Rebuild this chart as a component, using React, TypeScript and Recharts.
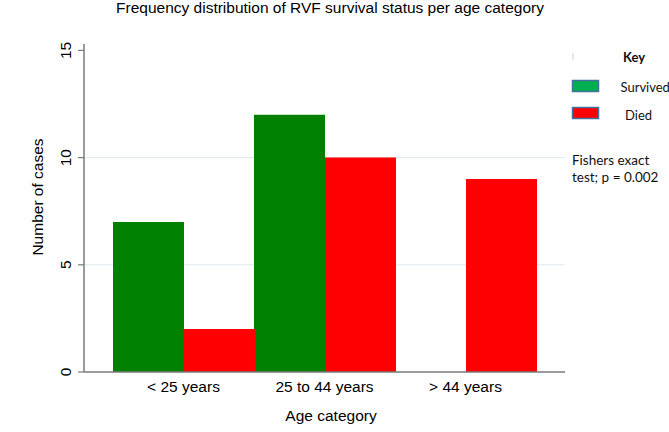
import React from 'react';
import { BarChart, Bar, XAxis, YAxis, CartesianGrid } from 'recharts';

const categories = ['< 25 years', '25 to 44 years', '> 44 years'];
const survivedValues = [7, 12, 0];
const diedValues = [2, 10, 9];
const yTicks = [0, 5, 10, 15];
const gridValues = [5, 10];
const legendLabels = ['Survived', 'Died'];
const legendColors = ['#00b050', '#ff0000'];
const barColors = ['#008000', '#ff0000'];

const data = categories.map((c, i) => ({
  category: c,
  survived: survivedValues[i],
  died: diedValues[i],
}));

const FONT = '"Liberation Sans", Arial, Helvetica, sans-serif';
const LFONT = 'Lato, "Noto Sans", sans-serif';

const YTick = (props: any) => {
  const { y, payload } = props;
  return (
    <text
      x={0}
      y={0}
      transform={`translate(70.5, ${y}) rotate(-90)`}
      textAnchor="middle"
      fontFamily={FONT}
      fontSize={15.5}
      fill="#000"
    >
      {payload.value}
    </text>
  );
};

const XTick = (props: any) => {
  const { x, payload } = props;
  return (
    <text x={x} y={392} textAnchor="middle" fontFamily={FONT} fontSize={15.5} fill="#000">
      {payload.value}
    </text>
  );
};

const xLabel = () => (
  <text x={331} y={421} textAnchor="middle" fontFamily={FONT} fontSize={15.5} fill="#000">
    Age category
  </text>
);

const yLabel = () => (
  <text
    x={0}
    y={0}
    transform="translate(43, 197) rotate(-90)"
    textAnchor="middle"
    fontFamily={FONT}
    fontSize={15.5}
    fill="#000"
  >
    Number of cases
  </text>
);

export default function App() {
  return (
    <div style={{ position: 'absolute', left: 0, top: 0, width: 669, height: 432, background: '#fff' }}>
      <BarChart
        width={669}
        height={432}
        data={data}
        margin={{ top: 44, right: 104, bottom: 10, left: 24 }}
        barCategoryGap={0}
        barGap={0}
      >
        <CartesianGrid vertical={false} horizontalValues={gridValues} stroke="#dfe9ed" strokeWidth={1} />
        <XAxis
          dataKey="category"
          padding={{ left: 29, right: 29 }}
          tickLine={false}
          axisLine={{ stroke: '#7a7a7a', strokeWidth: 1.5 }}
          height={50}
          tick={XTick}
          interval={0}
          label={xLabel}
        />
        <YAxis
          type="number"
          domain={[0, 15.3]}
          ticks={yTicks}
          width={60}
          tickSize={6}
          tickLine={{ stroke: '#7a7a7a', strokeWidth: 1.2 }}
          axisLine={{ stroke: '#7a7a7a', strokeWidth: 1.5 }}
          tick={YTick}
          label={yLabel}
        />
        <Bar dataKey="survived" fill={barColors[0]} isAnimationActive={false} />
        <Bar dataKey="died" fill={barColors[1]} isAnimationActive={false} />
      </BarChart>
      <svg
        width={669}
        height={432}
        style={{ position: 'absolute', left: 0, top: 0, pointerEvents: 'none' }}
      >
        <text x={330} y={13} textAnchor="middle" fontFamily={FONT} fontSize={15.5} fill="#000">
          Frequency distribution of RVF survival status per age category
        </text>
        <line x1={573} y1={53} x2={573} y2={60} stroke="#d0d0d0" strokeWidth={1} />
        <text x={623} y={62} fontFamily={LFONT} fontSize={13} fontWeight="bold" fill="#111">
          Key
        </text>
        {legendLabels.map((label, i) => (
          <g key={label}>
            <rect
              x={572.5}
              y={80.5 + i * 27}
              width={26}
              height={11}
              fill={legendColors[i]}
              stroke="#41719c"
              strokeWidth={1.5}
            />
            <text x={i === 0 ? 620.5 : 625} y={91.5 + i * 28} fontFamily={LFONT} fontSize={13} fill="#111">
              {label}
            </text>
          </g>
        ))}
        <text x={572} y={165} fontFamily={LFONT} fontSize={13.5} fill="#111">
          Fishers exact
        </text>
        <text x={572} y={182} fontFamily={LFONT} fontSize={13.5} fill="#111">
          test; p = 0.002
        </text>
      </svg>
    </div>
  );
}
